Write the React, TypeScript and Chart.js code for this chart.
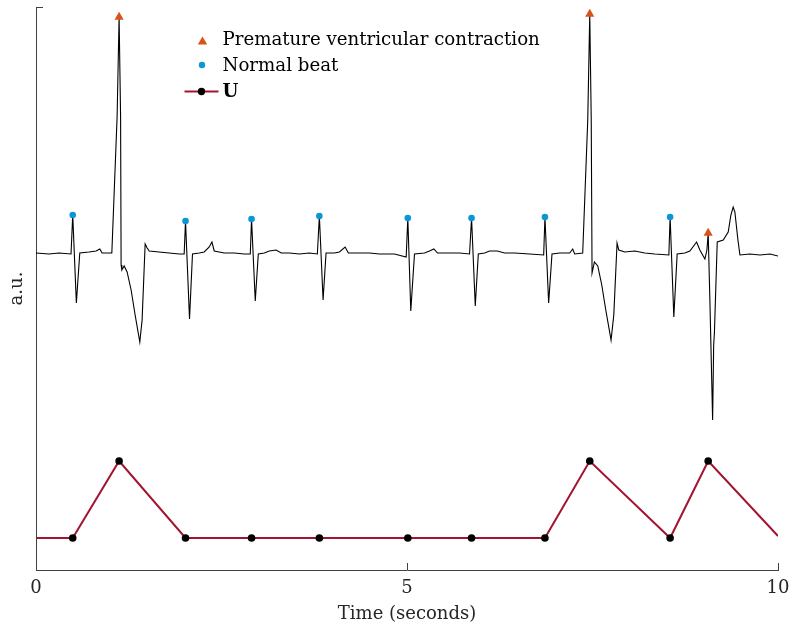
import React, { useEffect, useRef } from "react";
import { Chart, registerables } from "chart.js";

Chart.register(...registerables);

// ECG trace (time in seconds, amplitude in a.u.)
const ecgTime = [
  0, 0.175, 0.31, 0.472, 0.495, 0.544, 0.59, 0.715, 0.81, 0.86, 0.891, 1.022,
  1.093, 1.12, 1.14, 1.147, 1.157, 1.188, 1.228, 1.282, 1.336, 1.399, 1.43, 1.471,
  1.498, 1.525, 1.66, 1.795, 1.93, 1.997, 2.015, 2.069, 2.109, 2.2, 2.267, 2.335,
  2.371, 2.402, 2.537, 2.672, 2.807, 2.888, 2.905, 2.955, 2.996, 3.077, 3.144, 3.235,
  3.306, 3.414, 3.549, 3.684, 3.792, 3.819, 3.869, 3.909, 4.022, 4.089, 4.166, 4.21,
  4.359, 4.494, 4.629, 4.831, 4.989, 5.011, 5.051, 5.101, 5.236, 5.303, 5.362, 5.411,
  5.573, 5.708, 5.843, 5.87, 5.92, 5.961, 6.046, 6.113, 6.217, 6.316, 6.451, 6.653,
  6.842, 6.859, 6.909, 6.954, 7.058, 7.193, 7.233, 7.26, 7.368, 7.436, 7.463, 7.483,
  7.494, 7.526, 7.571, 7.625, 7.679, 7.75, 7.787, 7.831, 7.854, 7.935, 8.07, 8.205,
  8.34, 8.529, 8.546, 8.596, 8.641, 8.745, 8.812, 8.903, 8.947, 9.015, 9.042, 9.059,
  9.082, 9.119, 9.133, 9.143, 9.181, 9.262, 9.329, 9.365, 9.396, 9.419, 9.46, 9.487,
  9.622, 9.757, 9.892, 10,
];
const ecgValue = [
  0.01, 0, 0.01, 0, 0.39, -0.49, 0.01, 0.02, 0.03, 0.05, 0.01, 0.01,
  1.37, 2.37, 1.37, -0.11, -0.16, -0.12, -0.18, -0.36, -0.61, -0.88, -0.66, 0.1,
  0.06, 0.03, 0.02, 0.01, 0, 0, 0.33, -0.65, 0, 0.01, 0.02, 0.07,
  0.12, 0.03, 0.01, 0.01, 0, 0, 0.35, -0.47, 0, 0.01, 0.03, 0.04,
  0.01, 0.01, 0, 0.01, 0, 0.38, -0.46, 0.01, 0.01, 0.02, 0.07, 0.01,
  0.01, 0.01, 0, 0, -0.03, 0.36, -0.57, 0, 0.01, 0.03, 0.05, 0.01,
  0.01, 0.01, 0, 0.36, -0.52, 0, 0.01, 0.03, 0.03, 0.01, 0.01, 0,
  -0.01, 0.37, -0.49, 0, 0.01, 0.01, 0.05, 0, 0.01, 1.34, 2.4, 1.34,
  -0.19, -0.08, -0.12, -0.31, -0.56, -0.86, -0.61, 0.11, 0.04, 0.02, 0.03, 0.01,
  0, -0.01, 0.37, -0.63, 0, 0.01, 0.03, 0.12, 0.04, -0.05, 0.04, 0.21,
  -0.46, -1.66, -0.91, -0.79, 0.12, 0.14, 0.22, 0.39, 0.47, 0.42, 0.14, -0.01,
  0, -0.01, 0, -0.02,
];

// Detected beats
const normalTime = [0.495, 2.015, 2.905, 3.819, 5.011, 5.87, 6.859, 8.546];
const normalValue = [0.39, 0.33, 0.35, 0.38, 0.36, 0.36, 0.37, 0.37];
const pvcTime = [1.12, 7.463, 9.059];
const pvcValue = [2.37, 2.4, 0.21];

// U signal
const uTime = [0, 0.495, 1.12, 2.015, 2.905, 3.819, 5.011, 5.87, 6.859, 7.463, 8.546, 9.059, 10];
const uValue = [-2.84, -2.84, -2.07, -2.84, -2.84, -2.84, -2.84, -2.84, -2.84, -2.07, -2.84, -2.07, -2.82];

const xTicks = [0, 5, 10];
const X_MIN = 0;
const X_MAX = 10;
const Y_MIN = -3.16;
const Y_MAX = 2.47;

const legendLabels = ["Premature ventricular contraction", "Normal beat", "U"];
const xTitle = "Time (seconds)";
const yTitle = "a.u.";

const FONT = '"DejaVu Serif", serif';
const AXIS_COLOR = "#404040";
const PVC_COLOR = "#D95319";
const NORMAL_COLOR = "#0b96d6";
const U_COLOR = "#A2142F";

const zip = (xs: number[], ys: number[]) => xs.map((x, i) => ({ x, y: ys[i] }));

const inwardTicks = {
  id: "inwardTicks",
  afterDraw(chart: any) {
    const { ctx, chartArea: a, scales } = chart;
    ctx.save();
    ctx.strokeStyle = AXIS_COLOR;
    ctx.lineWidth = 1;
    ctx.beginPath();
    for (const v of xTicks) {
      const x = Math.round(scales.x.getPixelForValue(v)) + 0.5;
      ctx.moveTo(x, a.bottom);
      ctx.lineTo(x, a.bottom - 7);
    }
    for (const v of [Y_MIN, Y_MAX]) {
      const y = Math.round(scales.y.getPixelForValue(v)) + 0.5;
      ctx.moveTo(a.left, y);
      ctx.lineTo(a.left + 7, y);
    }
    ctx.stroke();
    ctx.restore();
  },
};

const legendPlugin = {
  id: "ecgLegend",
  afterDraw(chart: any) {
    const { ctx, chartArea: a } = chart;
    const mx = a.left + 166.5;
    const tx = a.left + 186.5;
    ctx.save();
    // triangle
    ctx.fillStyle = PVC_COLOR;
    ctx.beginPath();
    ctx.moveTo(mx, 36.5);
    ctx.lineTo(mx + 4.7, 44.5);
    ctx.lineTo(mx - 4.7, 44.5);
    ctx.closePath();
    ctx.fill();
    // blue dot
    ctx.fillStyle = NORMAL_COLOR;
    ctx.beginPath();
    ctx.arc(mx - 0.5, 65, 3.2, 0, Math.PI * 2);
    ctx.fill();
    // U line + marker
    ctx.strokeStyle = U_COLOR;
    ctx.lineWidth = 2;
    ctx.beginPath();
    ctx.moveTo(mx - 18, 91.5);
    ctx.lineTo(mx + 16, 91.5);
    ctx.stroke();
    ctx.fillStyle = "#000";
    ctx.beginPath();
    ctx.arc(mx - 1, 91.5, 3.7, 0, Math.PI * 2);
    ctx.fill();
    // texts
    ctx.fillStyle = "#000";
    ctx.textAlign = "left";
    ctx.textBaseline = "alphabetic";
    ctx.font = `18.2px ${FONT}`;
    ctx.fillText(legendLabels[0], tx, 45);
    ctx.fillText(legendLabels[1], tx, 71);
    ctx.font = `bold 18.2px ${FONT}`;
    ctx.fillText(legendLabels[2], tx, 96.5);
    ctx.restore();
  },
};

export default function App() {
  const canvasRef = useRef<HTMLCanvasElement | null>(null);

  useEffect(() => {
    if (!canvasRef.current) return;
    const chart = new Chart(canvasRef.current, {
      type: "scatter",
      data: {
        datasets: [
          {
            label: "ECG",
            data: zip(ecgTime, ecgValue),
            showLine: true,
            borderColor: "#000",
            borderWidth: 1.1,
            pointRadius: 0,
            tension: 0,
            order: 3,
          },
          {
            label: legendLabels[2],
            data: zip(uTime, uValue),
            showLine: true,
            borderColor: U_COLOR,
            borderWidth: 2,
            pointRadius: uTime.map((_, i) => (i === 0 || i === uTime.length - 1 ? 0 : 3.8)),
            pointBackgroundColor: "#000",
            pointBorderColor: "#000",
            pointBorderWidth: 0,
            tension: 0,
            order: 2,
          },
          {
            label: legendLabels[1],
            data: zip(normalTime, normalValue),
            showLine: false,
            pointStyle: "circle",
            pointRadius: 3.3,
            pointBackgroundColor: NORMAL_COLOR,
            pointBorderWidth: 0,
            order: 1,
          },
          {
            label: legendLabels[0],
            data: zip(pvcTime, pvcValue),
            showLine: false,
            pointStyle: "triangle",
            pointRadius: 5.3,
            pointBackgroundColor: PVC_COLOR,
            pointBorderWidth: 0,
            order: 0,
          },
        ],
      },
      options: {
        responsive: false,
        animation: false,
        events: [],
        layout: { padding: { top: 7, right: 12, left: 0, bottom: 0 } },
        plugins: {
          legend: { display: false },
          tooltip: { enabled: false },
        },
        scales: {
          x: {
            type: "linear",
            min: X_MIN,
            max: X_MAX,
            afterFit: (s: any) => {
              s.height = 64;
              s.paddingLeft = 0;
              s.paddingRight = 0;
            },
            afterBuildTicks: (s: any) => {
              s.ticks = xTicks.map((v) => ({ value: v }));
            },
            ticks: {
              font: { family: FONT, size: 18 },
              color: "#262626",
              padding: 8,
              maxRotation: 0,
            },
            grid: { display: false, drawTicks: false },
            border: { display: true, color: AXIS_COLOR, width: 1 },
            title: {
              display: true,
              text: xTitle,
              font: { family: FONT, size: 18 },
              color: "#262626",
              padding: { top: 0, bottom: 8.5 },
            },
          },
          y: {
            type: "linear",
            min: Y_MIN,
            max: Y_MAX,
            afterFit: (s: any) => {
              s.width = 36;
              s.paddingTop = 0;
              s.paddingBottom = 0;
            },
            ticks: { display: false },
            grid: { display: false, drawTicks: false },
            border: { display: true, color: AXIS_COLOR, width: 1 },
            title: {
              display: true,
              text: yTitle,
              font: { family: FONT, size: 18 },
              color: "#262626",
              padding: { top: 6.5, bottom: 0 },
            },
          },
        },
      },
      plugins: [inwardTicks, legendPlugin],
    } as any);
    return () => chart.destroy();
  }, []);

  return (
    <div style={{ position: "absolute", left: 0, top: 0, width: 790, height: 634, background: "#fff" }}>
      <canvas ref={canvasRef} width={790} height={634} />
    </div>
  );
}
